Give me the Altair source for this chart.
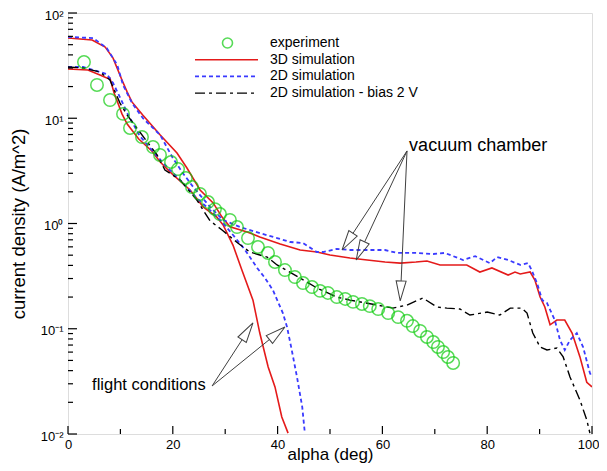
import math
import altair as alt
import pandas as pd

# ---------------- data ----------------
exp_alpha = [3.05, 5.53, 8.02, 10.5, 11.83, 14.12, 16.22, 17.56, 19.66, 21.0,
             22.5, 23.66, 25.19, 26.72, 28.05, 29.0, 30.9, 32.25, 34.35, 36.26,
             38.17, 39.5, 41.4, 43.3, 44.85, 46.56, 48.1, 49.6, 51.3, 52.9,
             54.4, 56.1, 57.6, 59.2, 61.1, 63.0, 64.7, 65.8, 67.2, 68.5,
             69.7, 70.6, 71.6, 72.5, 73.5]
exp_j = [34.2, 20.7, 14.9, 11.0, 8.08, 6.63, 5.33, 4.48, 3.84, 3.29,
         2.71, 2.22, 1.91, 1.60, 1.37, 1.23, 1.08, 0.926, 0.728, 0.598,
         0.525, 0.431, 0.361, 0.310, 0.272, 0.249, 0.229, 0.219, 0.200, 0.192,
         0.180, 0.172, 0.164, 0.154, 0.141, 0.129, 0.119, 0.106, 0.0953, 0.0835,
         0.0748, 0.0671, 0.0601, 0.0539, 0.0473]

# 3D simulation - vacuum chamber branch
r3v_alpha = [0, 4.6, 7.1, 8.6, 10.3, 11.3, 12.2, 14.3, 17.6, 20.8,
             22.7, 25.2, 27.7, 29.4, 30.9, 34.2, 36.6, 40.5, 44.3, 47.5,
             50.0, 53.8, 57.1, 60.5, 63.4, 66.4, 68.5, 71.0, 73.5, 76.1,
             78.6, 80.9, 84.0, 85.3, 86.3, 88.2, 89.1, 90.1, 91.0, 92.0,
             93.3, 94.8, 96.2, 97.7, 99.0, 100]
r3v_j = [57.8, 55.4, 47.5, 37.3, 23.1, 17.7, 14.3, 10.7, 6.93, 4.68,
         3.37, 2.08, 1.57, 1.15, 0.93, 0.83, 0.745, 0.64, 0.56, 0.536,
         0.502, 0.47, 0.45, 0.43, 0.42, 0.43, 0.44, 0.404, 0.404, 0.404,
         0.346, 0.378, 0.324, 0.346, 0.331, 0.346, 0.29, 0.20, 0.161, 0.109,
         0.121, 0.121, 0.091, 0.054, 0.031, 0.028]
# 3D simulation - flight conditions branch
r3f_alpha = [0, 3.8, 6.1, 7.4, 8.0, 8.8, 10.3, 11.3, 13.5, 16.0,
             17.6, 19.5, 23.3, 25.8, 28.4, 29.6, 31.5, 33.2, 35.3, 36.6,
             38.2, 39.5, 40.8, 42.0]
r3f_j = [29.4, 28.7, 25.7, 24.1, 24.1, 17.4, 11.0, 8.81, 6.35, 4.89,
         3.84, 3.08, 2.08, 1.44, 1.15, 0.97, 0.62, 0.36, 0.187, 0.091,
         0.0434, 0.028, 0.0145, 0.0102]

# 2D simulation - vacuum chamber branch
b2v_alpha = [0, 4.8, 7.4, 9.4, 10.5, 12.2, 14.3, 17.6, 20.0, 21.9,
             23.9, 27.1, 29.6, 32.8, 36.6, 39.9, 42.4, 44.8, 47.5, 48.7,
             51.3, 53.8, 57.6, 60.5, 62.8, 66.6, 69.7, 71.9, 75.4, 77.7,
             80.5, 81.9, 84.0, 86.3, 87.8, 88.5, 89.5, 90.5, 91.4, 92.9,
             93.9, 94.8, 95.8, 97.1, 98.3, 99.6, 100]
b2v_j = [59.2, 57.8, 46.4, 32.1, 20.7, 14.0, 10.0, 6.93, 4.19, 3.02,
         2.22, 1.44, 1.08, 0.927, 0.81, 0.728, 0.667, 0.653, 0.536, 0.536,
         0.573, 0.56, 0.56, 0.56, 0.525, 0.525, 0.513, 0.525, 0.45, 0.49,
         0.42, 0.48, 0.45, 0.404, 0.42, 0.36, 0.272, 0.187, 0.176, 0.121,
         0.078, 0.0628, 0.078, 0.091, 0.067, 0.038, 0.0348]
# 2D simulation - flight conditions branch
b2f_alpha = [0, 2.9, 6.1, 7.4, 8.6, 9.9, 11.3, 13.7, 16.0, 18.5,
             21.4, 24.2, 27.1, 29.4, 31.5, 33.8, 36.1, 37.6, 39.1, 41.0,
             41.8, 42.7, 43.7, 44.7, 45.2]
b2f_j = [30.7, 30.7, 27.5, 26.3, 21.6, 15.9, 11.2, 6.78, 4.99, 3.6,
         2.59, 1.82, 1.34, 1.03, 0.778, 0.56, 0.378, 0.303, 0.233, 0.141,
         0.104, 0.0628, 0.0348, 0.0181, 0.0102]

# 2D simulation - bias 2 V
bk_alpha = [0, 2.9, 6.1, 8.0, 9.9, 11.3, 13.7, 17.0, 18.5, 21.4,
            24.6, 25.8, 27.1, 29.4, 32.4, 34.7, 36.6, 38.0, 39.9, 44.3,
            47.5, 51.3, 53.8, 59.0, 62.0, 64.7, 67.7, 70.4, 72.3, 74.8,
            76.7, 80.0, 82.4, 84.4, 86.6, 87.6, 88.7, 90.1, 91.4, 93.3,
            94.5, 95.8, 97.7, 99.0, 99.6]
bk_j = [30.7, 30.0, 27.5, 23.1, 14.0, 10.7, 7.4, 4.48, 3.22, 2.59,
        1.67, 1.34, 1.06, 0.867, 0.653, 0.536, 0.502, 0.48, 0.404, 0.303,
        0.244, 0.20, 0.187, 0.168, 0.157, 0.168, 0.196, 0.161, 0.157, 0.154,
        0.135, 0.144, 0.135, 0.157, 0.157, 0.141, 0.091, 0.067, 0.0628, 0.0656,
        0.054, 0.0348, 0.021, 0.0136, 0.0102]

legend_labels = ["experiment", "3D simulation", "2D simulation", "2D simulation - bias 2 V"]

x_major = [0, 20, 40, 60, 80, 100]
x_minor = [10, 30, 50, 70, 90]
y_major = [0.01, 0.1, 1, 10, 100]
y_minor = [m * 10.0 ** k for k in range(-2, 2) for m in range(2, 10)]

# annotations (data coordinates)
ann_text = ["vacuum chamber", "flight conditions"]
ann_alpha = [65.1, 26.3]
ann_j = [5.45, 0.0292]
arrow_from_alpha = [64.7, 64.7, 64.7, 27.5, 27.5]
arrow_from_j = [4.89, 4.89, 4.89, 0.0286, 0.0286]
arrow_to_alpha = [52.3, 55.0, 63.4, 35.3, 41.4]
arrow_to_j = [0.56, 0.45, 0.184, 0.1135, 0.104]

# ---------------- styling ----------------
W, H = 524, 421
FONT = "Liberation Sans"
RED = "#e41a1a"
BLUE = "#3a3aff"
GREEN = "#10cc10"
BLACK = "#000000"
ARROW = "#404040"
BLUE_DASH = [4, 3]
BLACK_DASH = [10, 4, 3, 4]
HEAD_LEN = 20

xs = alt.Scale(domain=[0, 100], nice=False, zero=False)
ys = alt.Scale(type="log", domain=[0.01, 100], nice=False)

label_expr = ("datum.value >= 50 ? '10\u00b2' : datum.value >= 5 ? '10\u00b9' : "
              "datum.value >= 0.5 ? '10\u2070' : datum.value >= 0.05 ? '10\u207b\u00b9' : '10\u207b\u00b2'")

x_axis = alt.Axis(values=x_major, title="alpha (deg)", grid=False, ticks=False, tickSize=0,
                  domain=False, labelFontSize=13, labelPadding=4, labelColor="black",
                  labelFont=FONT, labelFlush=False,
                  labelAlign={"expr": "datum.value >= 100 ? 'right' : 'center'"},
                  labelOffset={"expr": "datum.value >= 100 ? 7 : 0"},
                  titleFont=FONT, titleFontSize=17,
                  titleFontWeight="normal", titleColor="black", titleY=25,
                  titleBaseline="alphabetic")
y_axis = alt.Axis(values=y_major, title="current density (A/m^2)", grid=False, ticks=False,
                  tickSize=0, domain=False, labelFontSize=13, labelPadding=5, labelOffset=2,
                  labelColor="black", labelFont=FONT, labelExpr=label_expr, labelFlush=False,
                  titleFont=FONT, titleFontSize=18.5, titleFontWeight="normal",
                  titleColor="black", titleX=-50, titleBaseline="middle")


def X(field):
    return alt.X(field, type="quantitative", scale=xs, axis=x_axis)


def Y(field):
    return alt.Y(field, type="quantitative", scale=ys, axis=y_axis)


def branches(*pairs):
    frames = []
    for name, a, j in pairs:
        frames.append(pd.DataFrame({"alpha": a, "j": j, "branch": name, "i": range(len(a))}))
    return pd.concat(frames, ignore_index=True)


def line_layer(df, color, width, dash=None):
    kw = dict(color=color, strokeWidth=width, clip=True)
    if dash:
        kw["strokeDash"] = dash
    return alt.Chart(df).mark_line(**kw).encode(
        x=X("alpha"), y=Y("j"), detail="branch:N", order="i:Q")


red_df = branches(("vac", r3v_alpha, r3v_j), ("flight", r3f_alpha, r3f_j))
blue_df = branches(("vac", b2v_alpha, b2v_j), ("flight", b2f_alpha, b2f_j))
black_df = branches(("bias", bk_alpha, bk_j))
exp_df = pd.DataFrame({"alpha": exp_alpha, "j": exp_j})

red_layer = line_layer(red_df, RED, 1.6)
blue_layer = line_layer(blue_df, BLUE, 1.8, BLUE_DASH)
black_layer = line_layer(black_df, BLACK, 1.4, BLACK_DASH)
exp_layer = alt.Chart(exp_df).mark_point(shape="circle", size=155, filled=False, color=GREEN,
                                          strokeWidth=1.5, clip=True).encode(x=X("alpha"), y=Y("j"))

# inward ticks
def xticks(vals, length):
    return alt.Chart(pd.DataFrame({"t": vals})).mark_rule(color="black", strokeWidth=1.2).encode(
        x=X("t"), y=alt.value(H), y2=alt.value(H - length))


def yticks(vals, length):
    return alt.Chart(pd.DataFrame({"t": vals})).mark_rule(color="black", strokeWidth=1.2).encode(
        y=Y("t"), x=alt.value(0), x2=alt.value(length))


ticks = [xticks(x_major, 8), xticks(x_minor, 5), yticks(y_major, 9), yticks(y_minor, 5)]

# annotations with hollow arrowheads
def to_px(a, j):
    return a / 100.0 * W, (2 - math.log10(j)) / 4.0 * H


def to_data(px, py):
    return px / W * 100.0, 10 ** (2 - py / H * 4.0)


rows = []
for fa, fj, ta, tj in zip(arrow_from_alpha, arrow_from_j, arrow_to_alpha, arrow_to_j):
    fx, fy = to_px(fa, fj)
    tx, ty = to_px(ta, tj)
    dx, dy = tx - fx, ty - fy
    dist = math.hypot(dx, dy)
    bx, by = tx - dx / dist * HEAD_LEN, ty - dy / dist * HEAD_LEN
    ba, bj = to_data(bx, by)
    ang = math.degrees(math.atan2(dx, -dy)) % 360
    rows.append({"fa": fa, "fj": fj, "ba": ba, "bj": bj, "ta": ta, "tj": tj, "ang": ang})
arrow_df = pd.DataFrame(rows)

shafts = alt.Chart(arrow_df).mark_rule(color=ARROW, strokeWidth=1).encode(
    x=X("fa"), y=Y("fj"), x2="ba:Q", y2="bj:Q")
head_path = "M0,0 L0.5,2 L-0.5,2 Z"
heads = alt.Chart(arrow_df).mark_point(shape=head_path, size=HEAD_LEN ** 2, filled=False,
                                       color=ARROW, strokeWidth=1, opacity=1).encode(
    x=X("ta"), y=Y("tj"), angle=alt.Angle("ang:Q", scale=None))

ann_df = pd.DataFrame({"text": ann_text, "alpha": ann_alpha, "j": ann_j})
ann_vac = alt.Chart(ann_df.iloc[[0]]).mark_text(align="left", baseline="middle", fontSize=18,
                                                font=FONT, color="black").encode(
    x=X("alpha"), y=Y("j"), text="text:N")
ann_fl = alt.Chart(ann_df.iloc[[1]]).mark_text(align="right", baseline="middle", fontSize=16.5,
                                               font=FONT, color="black").encode(
    x=X("alpha"), y=Y("j"), text="text:N")

# legend (drawn by hand, inside the plot area)
LEG_SYM_X0, LEG_SYM_X1, LEG_TEXT_X = 127, 190, 202
LEG_ROW0, LEG_STEP = 30, 16.7
one = pd.DataFrame({"k": [0]})
legend_layers = [
    alt.Chart(one).mark_point(shape="circle", size=100, filled=False, color=GREEN,
                              strokeWidth=1.6).encode(
        x=alt.value((LEG_SYM_X0 + LEG_SYM_X1) / 2 + 1), y=alt.value(LEG_ROW0)),
]
for r, (col, dash, wid) in enumerate([(RED, None, 1.6), (BLUE, BLUE_DASH, 1.8),
                                      (BLACK, BLACK_DASH, 1.4)], start=1):
    kw = dict(color=col, strokeWidth=wid)
    if dash:
        kw["strokeDash"] = dash
    legend_layers.append(alt.Chart(one).mark_rule(**kw).encode(
        x=alt.value(LEG_SYM_X0), x2=alt.value(LEG_SYM_X1),
        y=alt.value(LEG_ROW0 + r * LEG_STEP)))
for r, lab in enumerate(legend_labels):
    legend_layers.append(alt.Chart(one).mark_text(align="left", baseline="middle", fontSize=14,
                                                  font=FONT, color="black").encode(
        x=alt.value(LEG_TEXT_X), y=alt.value(LEG_ROW0 + r * LEG_STEP), text=alt.value(lab)))

chart = alt.layer(
    red_layer, blue_layer, black_layer, exp_layer, *ticks, shafts, heads, ann_vac, ann_fl,
    *legend_layers
).properties(
    width=W, height=H,
    autosize=alt.AutoSizeParams(type="none"),
    padding={"left": 60, "top": 5, "right": 7, "bottom": 29},
    background="white",
).configure_view(stroke="black", strokeWidth=1.5).configure(font=FONT)

chart.save("out.html", embed_options={"renderer": "svg", "actions": False})
